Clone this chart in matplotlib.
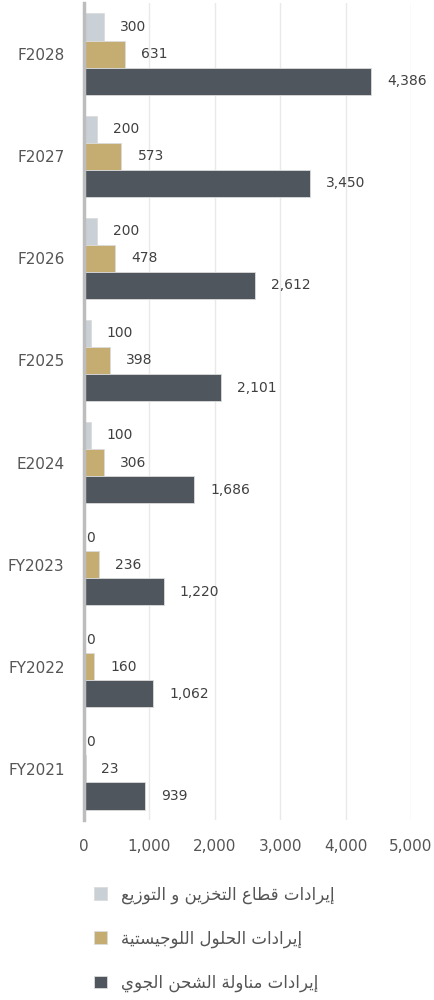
import matplotlib

matplotlib.use("Agg")

import matplotlib.pyplot as plt
import numpy as np

plt.rcParams["font.family"] = ["DejaVu Sans"]

# Data, bottom to top
years = ["FY2021", "FY2022", "FY2023", "E2024", "F2025", "F2026", "F2027", "F2028"]
storage = [0, 0, 0, 100, 100, 200, 200, 300]
logistics = [23, 160, 236, 306, 398, 478, 573, 631]
air_cargo = [939, 1062, 1220, 1686, 2101, 2612, 3450, 4386]

series_names = [
    "إيرادات قطاع التخزين و التوزيع",
    "إيرادات الحلول اللوجيستية",
    "إيرادات مناولة الشحن الجوي",
]
colors = ["#c9d1d7", "#c5ad72", "#50565d"]

# Minimal Arabic shaping: contextual forms + visual (reversed) order
FORMS = {
    "\u0627": "\uFE8D\uFE8E",
    "\u0625": "\uFE87\uFE88",
    "\u0628": "\uFE8F\uFE90\uFE91\uFE92",
    "\u0629": "\uFE93\uFE94",
    "\u062A": "\uFE95\uFE96\uFE97\uFE98",
    "\u062C": "\uFE9D\uFE9E\uFE9F\uFEA0",
    "\u062D": "\uFEA1\uFEA2\uFEA3\uFEA4",
    "\u062E": "\uFEA5\uFEA6\uFEA7\uFEA8",
    "\u062F": "\uFEA9\uFEAA",
    "\u0631": "\uFEAD\uFEAE",
    "\u0632": "\uFEAF\uFEB0",
    "\u0633": "\uFEB1\uFEB2\uFEB3\uFEB4",
    "\u0634": "\uFEB5\uFEB6\uFEB7\uFEB8",
    "\u0637": "\uFEC1\uFEC2\uFEC3\uFEC4",
    "\u0639": "\uFEC9\uFECA\uFECB\uFECC",
    "\u0642": "\uFED5\uFED6\uFED7\uFED8",
    "\u0644": "\uFEDD\uFEDE\uFEDF\uFEE0",
    "\u0645": "\uFEE1\uFEE2\uFEE3\uFEE4",
    "\u0646": "\uFEE5\uFEE6\uFEE7\uFEE8",
    "\u0648": "\uFEED\uFEEE",
    "\u064A": "\uFEF1\uFEF2\uFEF3\uFEF4",
}


def shape(text):
    out = []
    for i, ch in enumerate(text):
        forms = FORMS.get(ch)
        if forms is None:
            out.append(ch)
            continue
        prev = text[i - 1] if i > 0 else ""
        nxt = text[i + 1] if i + 1 < len(text) else ""
        join_prev = len(FORMS.get(prev, "")) == 4
        join_next = len(forms) == 4 and nxt in FORMS
        out.append(forms[(1 if join_prev else 0) + (2 if join_next else 0)])
    return "".join(reversed(out))


fig = plt.figure(figsize=(4.35, 10), dpi=100)
ax = fig.add_axes([84 / 435, 0.18, 327 / 435, 0.817])

y = np.arange(len(years))
h = 0.265
bars = []
for offset, vals, color in zip([h, 0, -h], [storage, logistics, air_cargo], colors):
    b = ax.barh(y + offset, vals, height=h, color=color, edgecolor="#dcdcdc",
                linewidth=0.6, zorder=3)
    bars.append(b)
    for yy, v in zip(y + offset, vals):
        ax.annotate(f"{v:,}", (v, yy), xytext=(11.5 if v > 0 else 1.5, 0),
                    textcoords="offset points", va="center", ha="left",
                    fontsize=10, color="#404040")

ax.set_xlim(0, 5000)
ax.set_ylim(-0.5, len(years) - 0.5)
ax.set_xticks(range(0, 5001, 1000))
ax.set_xticklabels([f"{t:,}" for t in range(0, 5001, 1000)])
ax.set_yticks(y)
ax.set_yticklabels(years)
ax.tick_params(axis="x", length=0, pad=14, labelsize=11, labelcolor="#555555")
ax.tick_params(axis="y", length=0, pad=14, labelsize=11, labelcolor="#555555")
ax.grid(axis="x", color="#e9e9e9", linewidth=1, zorder=0)
for side in ["top", "right", "bottom"]:
    ax.spines[side].set_visible(False)
ax.spines["left"].set_color("#bdbdbd")
ax.spines["left"].set_linewidth(2.5)
ax.spines["left"].set_zorder(4)

fig.legend(bars, [shape(s) for s in series_names], loc="upper left",
           bbox_to_anchor=(86 / 435, 1 - 877 / 1000), frameon=False,
           fontsize=12, handlelength=0.78, handleheight=0.78,
           handletextpad=0.8, labelspacing=1.55, borderpad=0,
           labelcolor="#555555")

fig.savefig("out.png", dpi=100)
